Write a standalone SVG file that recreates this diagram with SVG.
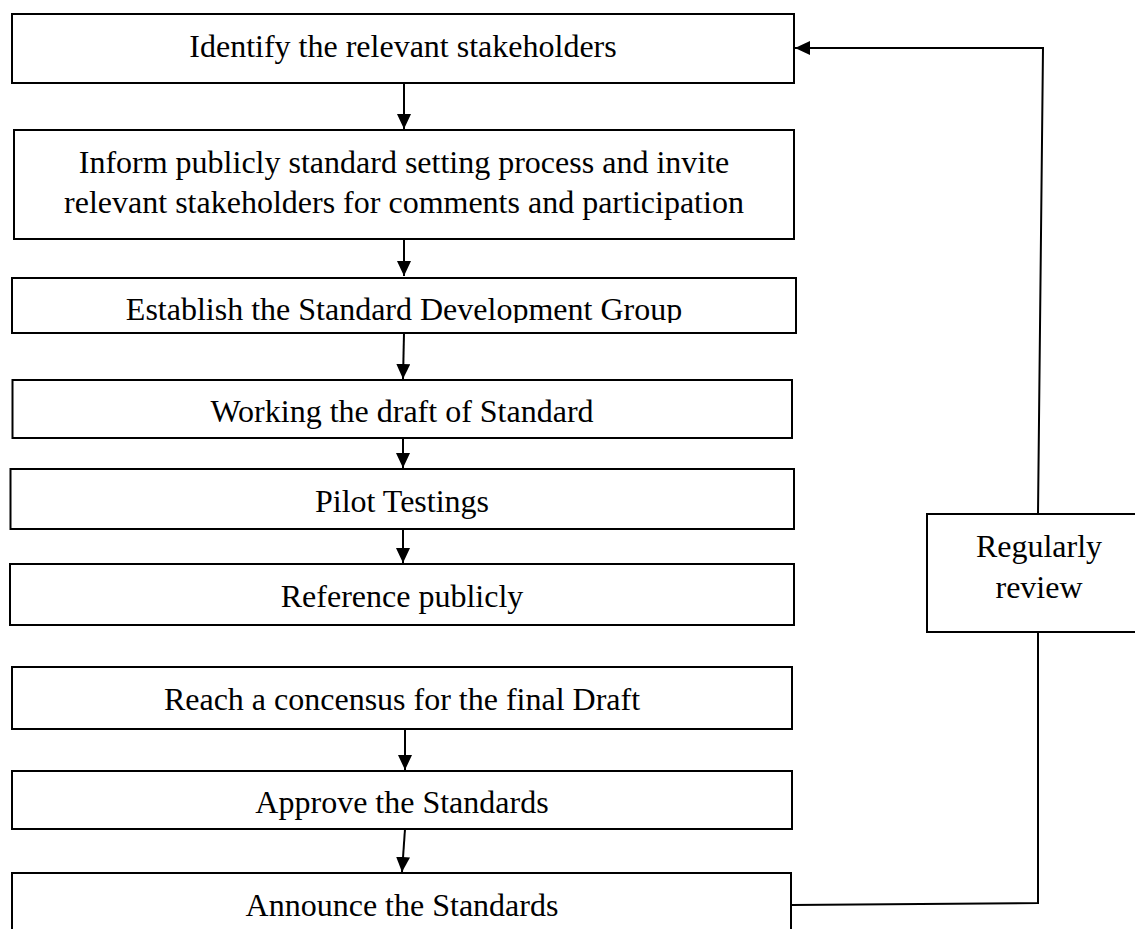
<svg xmlns="http://www.w3.org/2000/svg" width="1135" height="929" viewBox="0 0 1135 929">
<style>
.box{fill:#fff;stroke:#000;stroke-width:2}
.t{font-family:"Liberation Serif","Times New Roman",serif;font-size:32px;fill:#000;text-anchor:middle}
.c{fill:none;stroke:#000;stroke-width:2}
</style>
<defs>
<marker id="ah" viewBox="0 0 15 14" refX="15" refY="7" markerWidth="15" markerHeight="14" markerUnits="userSpaceOnUse" orient="auto">
<path d="M0,0 L15,7 L0,14 Z" fill="#000"/>
</marker>
<clipPath id="clip3"><rect x="12" y="278" width="784" height="45"/></clipPath>
</defs>
<rect width="1135" height="929" fill="#fff"/>
<g id="n1"><rect class="box" x="12" y="14" width="782" height="69"/><text class="t" x="403" y="57">Identify the relevant stakeholders</text></g>
<g id="n2"><rect class="box" x="14" y="130" width="780" height="109"/><text class="t" x="404" y="173">Inform publicly standard setting process and invite</text><text class="t" x="404" y="213">relevant stakeholders for comments and participation</text></g>
<g id="n3"><rect class="box" x="12" y="278" width="784" height="55"/><text class="t" x="404" y="320" clip-path="url(#clip3)">Establish the Standard Development Group</text></g>
<g id="n4"><rect class="box" x="12.5" y="380" width="779.5" height="58"/><text class="t" x="402" y="422">Working the draft of Standard</text></g>
<g id="n5"><rect class="box" x="10.5" y="469" width="783.5" height="60"/><text class="t" x="402" y="512">Pilot Testings</text></g>
<g id="n6"><rect class="box" x="10" y="564" width="784" height="61"/><text class="t" x="402" y="607">Reference publicly</text></g>
<g id="n7"><rect class="box" x="12" y="667" width="780" height="62"/><text class="t" x="402" y="710">Reach a concensus for the final Draft</text></g>
<g id="n8"><rect class="box" x="12" y="771" width="780" height="58"/><text class="t" x="402" y="813">Approve the Standards</text></g>
<g id="n9"><rect class="box" x="12" y="873" width="779" height="80"/><text class="t" x="402" y="916">Announce the Standards</text></g>
<g id="n10"><rect class="box" x="927" y="514" width="230" height="118"/><text class="t" x="1039" y="557">Regularly</text><text class="t" x="1039" y="598">review</text></g>
<g id="connectors">
<path class="c" d="M404,83 L404,129" marker-end="url(#ah)"/>
<path class="c" d="M404,239 L404,276" marker-end="url(#ah)"/>
<path class="c" d="M404,333 L403,379" marker-end="url(#ah)"/>
<path class="c" d="M403,438 L403,468" marker-end="url(#ah)"/>
<path class="c" d="M403,529 L403,563" marker-end="url(#ah)"/>
<path class="c" d="M405,729 L405,770" marker-end="url(#ah)"/>
<path class="c" d="M405,829 L402,872" marker-end="url(#ah)"/>
<path class="c" d="M791,905 L1038,903 L1038,632"/>
<path class="c" d="M1038,514 L1043,48 L795,48" marker-end="url(#ah)"/>
</g>
</svg>
